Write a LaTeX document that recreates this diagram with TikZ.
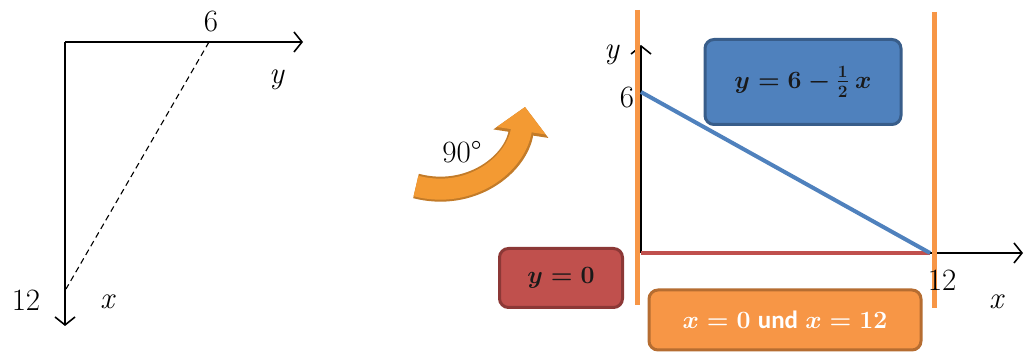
\documentclass[tikz,border=0pt]{standalone}
\usepackage{amsmath}
\usepackage{fontspec}
\newfontfamily\calibri{Carlito}
\usetikzlibrary{arrows.meta}
\definecolor{oline}{HTML}{F79646}
\definecolor{bfill}{HTML}{4F81BD}
\definecolor{bdraw}{HTML}{385D8A}
\definecolor{rfill}{HTML}{C0504D}
\definecolor{rdraw}{HTML}{8C3836}
\definecolor{ofill}{HTML}{F79646}
\definecolor{odraw}{HTML}{B66D31}
\definecolor{arrfill}{HTML}{F39A33}
\tikzset{
  lbl/.style={font=\fontsize{31}{36}\selectfont, inner sep=0pt},
  axis/.style={line width=1.6pt, -{Straight Barb[length=8pt,width=20pt,line width=1.6pt]}},
  eqbox/.style={rounded corners=9pt, line width=3pt, inner sep=0pt, font=\fontsize{24}{28}\selectfont\boldmath},
}
\begin{document}
\begin{tikzpicture}[x=1pt,y=-1pt]
\useasboundingbox (0,0) rectangle (1025,352);
% left diagram
\coordinate (O) at (65,42);
\coordinate (Yend) at (303,42);
\coordinate (Xend) at (65,326);
\coordinate (P6) at (209,42);
\coordinate (P12) at (66,289);
\draw[axis] (O) -- (Yend);
\draw[axis] (O) -- (Xend);
\draw[line width=1.1pt, dash pattern=on 6pt off 4pt] (P6) -- (P12);
\node[lbl] (l6) at (211,22) {6};
\node[lbl] (ly) at (277,80) {\textit{y}};
\node[lbl] (l12) at (26,300) {12};
\node[lbl] (lx) at (108,302) {\textit{x}};
% rotation arrow
\coordinate (ra) at (416,186);
\coordinate (rb) at (525,107);
\draw[arrfill!80!black, line width=25pt, -{Triangle[width=54pt,length=27pt]}] (ra) .. controls (470,200) and (516,165) .. (rb);
\draw[arrfill, line width=21pt, -{Triangle[width=48pt,length=24pt]}] (ra) .. controls (470,200) and (516,165) .. (rb);
\node[lbl] (l90) at (462,152) {90°};
% right diagram
\coordinate (Q0) at (641,253);
\coordinate (Qy) at (641,45);
\coordinate (Q12) at (930,253);
\coordinate (Qx) at (1023,253);
\coordinate (Q6) at (641,92);
\draw[axis] (Q0) -- (Qy);
\draw[axis] (Q12) -- (Qx);
\draw[rfill, line width=4pt] (Q0) -- (Q12);
\draw[bfill, line width=4pt] (Q6) -- (Q12);
\coordinate (v1t) at (637,10);
\coordinate (v1b) at (637,305);
\coordinate (v2t) at (934,12);
\coordinate (v2b) at (934,308);
\draw[oline, line width=5pt] (v1t) -- (v1b);
\draw[oline, line width=5pt] (v2t) -- (v2b);
\node[lbl] (ry) at (612,55) {\textit{y}};
\node[lbl] (r6) at (627,98) {6};
\node[lbl] (r12) at (942,280) {12};
\node[lbl] (rx) at (997,302) {\textit{x}};
% boxes
\node[eqbox, fill=bfill, draw=bdraw, minimum width=196pt, minimum height=85pt, text=black!90] (bb) at (803,82) {$y=6-\tfrac{1}{2}\mkern4mu x$};
\node[eqbox, fill=rfill, draw=rdraw, minimum width=123pt, minimum height=59pt, text=black!90] (rb) at (561,278) {$y=0$};
\node[eqbox, fill=ofill, draw=odraw, minimum width=272pt, minimum height=60pt, text=white] (ob) at (785,320) {$x=0$ {\calibri\bfseries\fontsize{25}{27}\selectfont und} $x=12$};
\end{tikzpicture}
\end{document}
